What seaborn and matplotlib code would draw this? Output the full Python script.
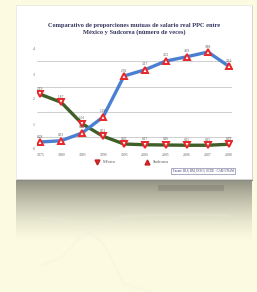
import numpy as np
import pandas as pd
import matplotlib
matplotlib.use("Agg")
import matplotlib.pyplot as plt
from matplotlib.patches import Rectangle
from matplotlib.lines import Line2D
import seaborn as sns

years = ["1975", "1980", "1985", "1990", "1995", "2000", "2005", "2006", "2007", "2008"]
mexico = [0.28, 0.33, 0.64, 1.28, 2.92, 3.17, 3.52, 3.69, 3.88, 3.31]
sudcorea = [2.19, 1.87, 1.01, 0.51, 0.20, 0.17, 0.16, 0.15, 0.15, 0.19]
yticks = [0, 1, 2, 3, 4]
title = "Comparativo de proporciones mutuas de salario real PPC entre\nMéxico y Sudcorea (número de veces)"
source = "Fuente: BLS, BM, INEGI, OCDE · CAM-UNAM"

sns.set_theme(style="white")
plt.rcParams['font.family'] = ['Liberation Serif', 'DejaVu Serif']

BG = "#fcfbe1"
W, H = 257, 292
fig = plt.figure(figsize=(W / 100, H / 100), dpi=100, facecolor=BG)

def fx(px):
    return px / W

def fy(py):
    return 1 - py / H

df = pd.DataFrame({
    "pos": list(range(len(years))) * 2,
    "valor": mexico + sudcorea,
    "serie": ["México"] * len(years) + ["Sudcorea"] * len(years),
})
colors = {"México": "#4a7fd2", "Sudcorea": "#3f5f28"}
marks = {"México": "^", "Sudcorea": "v"}

# background / panel
bg_ax = fig.add_axes([0, 0, 1, 1])
bg_ax.set_axis_off()
bg_ax.set_zorder(0)
bg_ax.set_xlim(0, W)
bg_ax.set_ylim(H, 0)
grad = np.linspace(0, 1, 100)[:, None]
img = np.zeros((100, 2, 4))
img[..., 0] = 0.50
img[..., 1] = 0.50
img[..., 2] = 0.45
img[..., 3] = 0.85 * (1 - grad) ** 1.5
bg_ax.imshow(img, aspect="auto", extent=[16, 252, 243, 180], origin="upper", zorder=1)
bg_ax.add_patch(Rectangle((158, 185), 66, 6, color="#6a6a60", alpha=0.3, lw=0, zorder=2))
bg_ax.add_patch(Rectangle((17, 6), 236, 175, facecolor="#8a8a80", edgecolor="none", zorder=3))
bg_ax.add_patch(Rectangle((16, 5), 236, 174, facecolor="white", edgecolor="#e0e0e0", lw=0.4, zorder=4))

# reflection of chart lines
rx = fig.add_axes([fx(37), fy(315), fx(195), (315 - 209) / H])
rx.set_zorder(1)
rx.set_axis_off()
for s in ["Sudcorea", "México"]:
    sub = df[df["serie"] == s]
    sns.lineplot(data=sub, x="pos", y="valor", ax=rx, color="#eeeedd", lw=1.6, alpha=0.25,
                 legend=False)
rx.set_xlim(-0.15, 9.15)
rx.set_ylim(4.16, -0.08)

ax = fig.add_axes([fx(37), fy(151), fx(195), (151 - 45) / H])
ax.set_zorder(5)
ax.set_facecolor("none")
for s in ["Sudcorea", "México"]:
    sub = df[df["serie"] == s]
    sns.lineplot(data=sub, x="pos", y="valor", ax=ax, color=colors[s], lw=2.4,
                 marker=marks[s], markersize=5, markerfacecolor="white",
                 markeredgecolor="#e8262a", markeredgewidth=1.4, legend=False, zorder=3)
    for xv, yv in zip(sub["pos"], sub["valor"]):
        ax.text(xv, yv + 0.22, f"{yv:.2f}", ha="center", va="center", fontsize=2.6,
                color="#555555", zorder=4)

for g in [0.5, 1.5, 2.5, 3.5]:
    ax.axhline(g, color="#c8c8c8", lw=0.6, zorder=1)
ax.set_xlim(-0.15, 9.15)
ax.set_ylim(-0.08, 4.16)
ax.set_yticks(yticks)
ax.set_yticklabels([str(t) for t in yticks], fontsize=2.8, color="#666666")
ax.set_xticks(range(len(years)))
ax.set_xticklabels(years, fontsize=2.8, color="#666666")
ax.tick_params(axis="both", length=0, pad=1.5)
ax.set_xlabel("")
ax.set_ylabel("")
for sp in ax.spines.values():
    sp.set_visible(False)

t = fig.text(fx(134), fy(29), title, ha="center", va="center", fontsize=4.6, fontweight="bold",
             color="#33335f", linespacing=1.15)
t.set_zorder(6)

handles = [Line2D([], [], ls="none", marker="v", markersize=3.5, markerfacecolor="#e8262a",
                  markeredgecolor="#c02020"),
           Line2D([], [], ls="none", marker="^", markersize=3.5, markerfacecolor="#e8262a",
                  markeredgecolor="#c02020")]
leg = fig.legend(handles, ["México", "Sudcorea"], loc="center", bbox_to_anchor=(fx(131), fy(162)),
                 ncol=2, fontsize=3.2, frameon=False, columnspacing=6, handletextpad=0.3,
                 labelcolor="#555555")
leg.set_zorder(6)

s = fig.text(fx(203), fy(171), source, ha="center", va="center", fontsize=2.2, color="#333366",
             bbox=dict(boxstyle="square,pad=0.4", fc="white", ec="#8888aa", lw=0.5))
s.set_zorder(6)

fig.savefig("out.png", dpi=100, facecolor=BG)
